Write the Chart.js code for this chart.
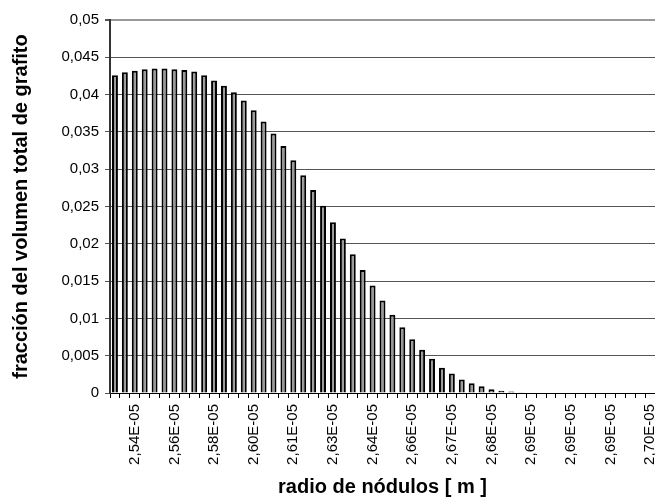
<!DOCTYPE html>
<html lang="es">
<head>
<meta charset="utf-8">
<title>Distribución de nódulos</title>
<script src="https://cdn.jsdelivr.net/npm/chart.js@4/dist/chart.umd.min.js"></script>
<style>
  html, body { margin: 0; padding: 0; background: #fff; overflow: hidden; }
  #contenedor { width: 655px; height: 500px; overflow: hidden; }
</style>
</head>
<body>
<div id="contenedor"><canvas id="grafico" width="655" height="500"></canvas></div>
<script>
// fracción del volumen por clase de radio (55 clases)
const fraccionVolumen = [
  0.0426, 0.0430, 0.0432, 0.0434, 0.0435, 0.0435, 0.0434, 0.0433, 0.0431, 0.0426,
  0.0419, 0.0412, 0.0403, 0.0392, 0.0379, 0.0364, 0.0348, 0.0331, 0.0312, 0.0292,
  0.0272, 0.0251, 0.0229, 0.0207, 0.0186, 0.0165, 0.0144, 0.0124, 0.0105, 0.0088,
  0.0072, 0.0058, 0.0046, 0.0034, 0.0026, 0.0018, 0.0013, 0.0009, 0.0005, 0.0003,
  0.0002, 0.0001, 0, 0, 0, 0, 0, 0, 0, 0,
  0, 0, 0, 0, 0
];

// etiquetas del eje x, una cada 4 clases
const etiquetasRadio = [
  '2,54E-05', '2,56E-05', '2,58E-05', '2,60E-05', '2,61E-05', '2,63E-05', '2,64E-05',
  '2,66E-05', '2,67E-05', '2,68E-05', '2,69E-05', '2,69E-05', '2,69E-05', '2,70E-05'
];

const PASO_ETIQUETA = 4;
const PRIMERA_ETIQUETA = 2;

const categorias = fraccionVolumen.map((_, i) =>
  (i - PRIMERA_ETIQUETA) % PASO_ETIQUETA === 0 && i >= PRIMERA_ETIQUETA
    ? etiquetasRadio[(i - PRIMERA_ETIQUETA) / PASO_ETIQUETA]
    : ''
);

const fuente = "Arial, 'Liberation Sans', sans-serif";

const ctx = document.getElementById('grafico').getContext('2d');
new Chart(ctx, {
  type: 'bar',
  data: {
    labels: categorias,
    datasets: [{
      data: fraccionVolumen,
      backgroundColor: '#999999',
      borderColor: '#000000',
      borderWidth: 2,
      barPercentage: 0.6,
      categoryPercentage: 1.0
    }]
  },
  options: {
    responsive: false,
    animation: false,
    devicePixelRatio: 1,
    layout: { padding: { top: 20, left: 0, right: 0, bottom: 0 } },
    plugins: {
      legend: { display: false },
      tooltip: { enabled: false }
    },
    scales: {
      x: {
        offset: true,
        grid: {
          offset: true,
          drawOnChartArea: false,
          drawTicks: true,
          tickLength: 5,
          color: '#000000'
        },
        border: { display: true, color: '#000000', width: 1 },
        ticks: {
          autoSkip: false,
          maxRotation: 90,
          minRotation: 90,
          padding: 6,
          color: '#000000',
          font: { family: fuente, size: 15 }
        },
        title: {
          display: true,
          text: 'radio de nódulos [ m ]',
          color: '#000000',
          font: { family: fuente, size: 20, weight: 'bold' },
          padding: { top: 0, bottom: 1 }
        },
        afterFit(scale) {
          scale.height = 107;
          scale.paddingLeft = 0;
          scale.paddingRight = 0;
        }
      },
      y: {
        min: 0,
        max: 0.05,
        grid: {
          color: (c) => (c.tick && c.tick.value >= 0.05 ? '#999999' : '#555555'),
          lineWidth: (c) => (c.tick && c.tick.value >= 0.05 ? 2 : 1),
          drawTicks: true,
          tickLength: 5,
          tickColor: '#555555'
        },
        border: { display: true, color: '#333333', width: 2 },
        ticks: {
          stepSize: 0.005,
          padding: 6,
          color: '#000000',
          font: { family: fuente, size: 15 },
          callback: (v) => String(Number(v.toFixed(3))).replace('.', ',')
        },
        title: {
          display: true,
          text: 'fracción del volumen total de grafito',
          color: '#000000',
          font: { family: fuente, size: 20, weight: 'bold' },
          padding: { top: 9, bottom: 0 }
        },
        afterFit(scale) {
          scale.width = 110;
        }
      }
    }
  }
});
</script>
</body>
</html>
